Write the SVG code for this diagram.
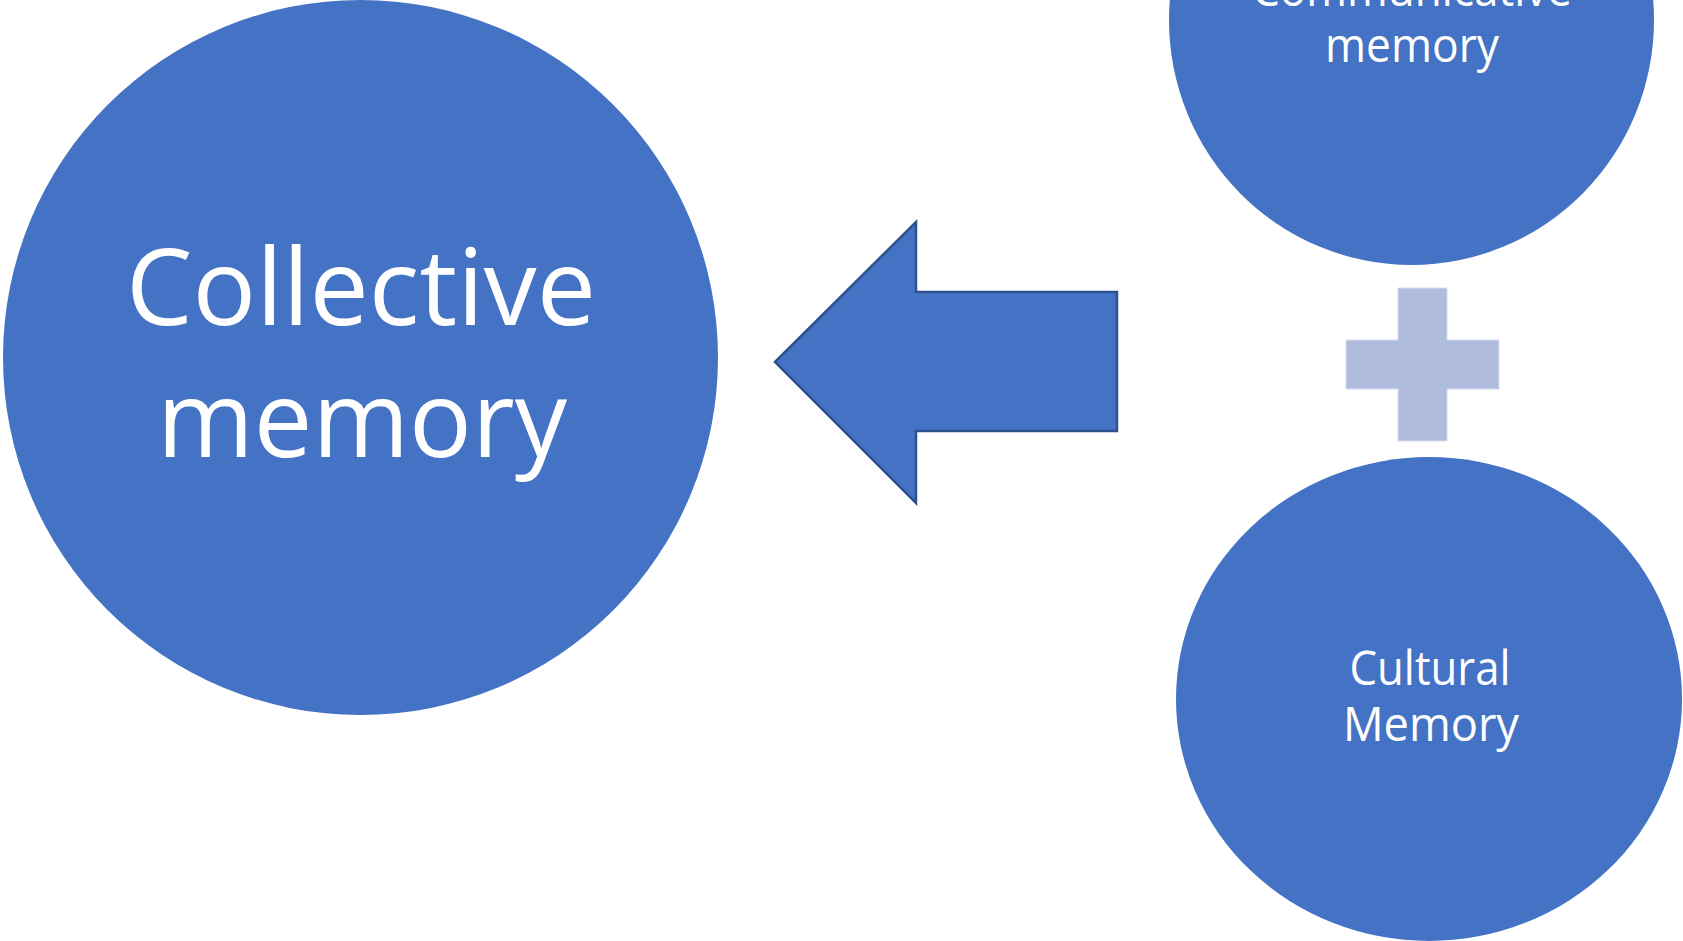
<svg xmlns="http://www.w3.org/2000/svg" width="1683" height="941" viewBox="0 0 1683 941">
<style>
.node{fill:#4472C4;}
.t{fill:#FFFFFF;font-family:"Open Sans","Noto Sans",sans-serif;text-anchor:middle;}
.big{font-size:106px;}
.small{font-size:47px;}
.arrow{fill:#4472C4;stroke:#2F528F;stroke-width:2.5;}
.plus{fill:#B0BCDE;stroke:#D6DDEF;stroke-width:1;}
</style>
<rect width="1683" height="941" fill="#FFFFFF"/>
<g id="collective">
<ellipse class="node" cx="360.5" cy="357.5" rx="357.5" ry="357.5"/>
<text class="t big" x="361" y="325" textLength="470" lengthAdjust="spacingAndGlyphs">Collective</text>
<text class="t big" x="362" y="457" textLength="410" lengthAdjust="spacingAndGlyphs">memory</text>
</g>
<g id="communicative">
<ellipse class="node" cx="1411.5" cy="20" rx="242.5" ry="245"/>
<text class="t small" x="1412" y="6" textLength="320" lengthAdjust="spacingAndGlyphs">Communicative</text>
<text class="t small" x="1412" y="62" textLength="174" lengthAdjust="spacingAndGlyphs">memory</text>
</g>
<g id="cultural">
<ellipse class="node" cx="1429" cy="699" rx="253" ry="242"/>
<text class="t small" x="1430" y="685" textLength="161" lengthAdjust="spacingAndGlyphs">Cultural</text>
<text class="t small" x="1431" y="741" textLength="176" lengthAdjust="spacingAndGlyphs">Memory</text>
</g>
<g id="plus">
<path class="plus" d="M1398,288 H1447 V340 H1499 V389 H1447 V441 H1398 V389 H1346 V340 H1398 Z"/>
</g>
<g id="connectors">
<path class="arrow" d="M775,362 L916,222 V292 H1117 V431 H916 V503 Z"/>
</g>
</svg>
